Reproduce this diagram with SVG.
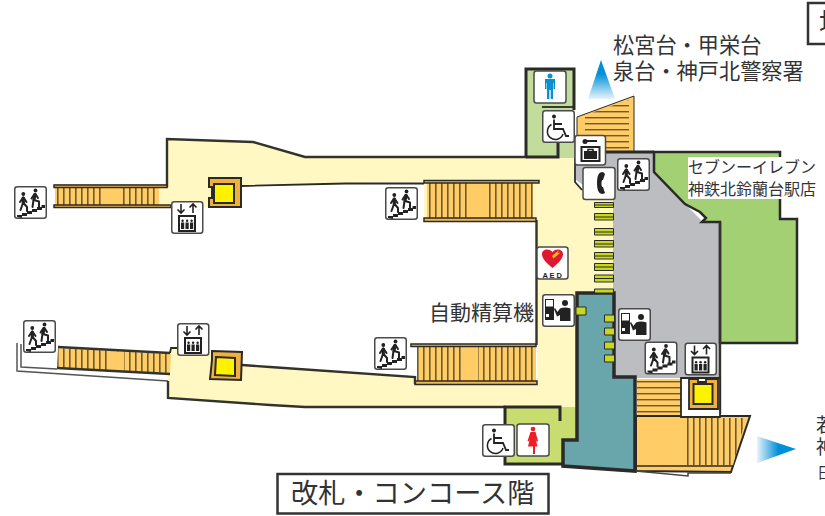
<svg xmlns="http://www.w3.org/2000/svg" xmlns:xlink="http://www.w3.org/1999/xlink" width="825" height="516" viewBox="0 0 825 516">
<style>
text{font-family:"Noto Sans CJK JP","Noto Sans",sans-serif;fill:#333;font-weight:400}
.wall{fill:none;stroke:#33332c;stroke-width:2.400;stroke-linejoin:miter}
.thick{fill:none;stroke:#2a2a28;stroke-width:3;stroke-linejoin:miter}
.thin{fill:none;stroke:#2a2a28;stroke-width:1.800}
.rail{fill:#f3b84f;stroke:#2a2a28;stroke-width:1.500}
.base{fill:#ffcc66}
.vh{fill:url(#vh)}
.hh{fill:url(#hh)}
.card{fill:#fff;stroke:#4a4a4a;stroke-width:1.500}
.gate{fill:#c8d820;stroke:#2a2a28;stroke-width:1}
.ink{fill:#222}
.line{fill:none;stroke:#222;stroke-width:1.600}
.limb{fill:none;stroke:#222;stroke-width:2;stroke-linecap:round;stroke-linejoin:round}
.body{fill:none;stroke:#222;stroke-width:3.200;stroke-linecap:round}
</style>
<defs>
<pattern id="vh" width="6" height="6" patternUnits="userSpaceOnUse"><rect width="6" height="6" fill="#ffcc66"/><rect x="3" width="1.600" height="6" fill="#6a5a30"/></pattern>
<pattern id="hh" width="6" height="6" patternUnits="userSpaceOnUse"><rect width="6" height="6" fill="#ffcc66"/><rect y="3" width="6" height="1.400" fill="#6a5a30"/></pattern>
<linearGradient id="gUp" x1="0" y1="0" x2="0" y2="1"><stop offset="0.35" stop-color="#0090d8"/><stop offset="1" stop-color="#e8f4fb"/></linearGradient>
<linearGradient id="gRight" x1="1" y1="0" x2="0" y2="0"><stop offset="0.45" stop-color="#0090d8"/><stop offset="1" stop-color="#e8f4fb"/></linearGradient>
<g id="persons">
<circle cx="9.300" cy="8" r="1.900" class="ink"/><path d="M9.300 12V17" class="body"/><path d="M9 11.500L6 16M9.500 11.500L12.500 16M9 17L6.500 24M9.500 17L13 21V25" class="limb"/>
<circle cx="21.500" cy="4.500" r="1.900" class="ink"/><path d="M21 8.500L20 13.500" class="body"/><path d="M20.500 8L17.500 12.500M21.500 8L24 12M20 14L25 15.500V20.500M19.500 14L18.500 21" class="limb"/>
</g>
<g id="stair"><rect x=".75" y=".75" width="31.500" height="31.500" rx="2.500" class="card"/><use xlink:href="#persons"/><path d="M3 31v-2h5v-2h5v-2h5v-2h5v-2h4.500v-2h3.500v3h-3v2h-5v2h-5v2h-5v2h-5v2z" class="ink"/></g>
<g id="lift"><rect x=".75" y=".75" width="31" height="31.500" rx="2.500" class="card"/><path d="M10 3v9M6.500 8.500L10 12l3.500-3.500M22 12V3M18.500 6.500L22 3l3.500 3.500" class="line"/><rect x="8" y="15" width="16" height="15" fill="none" stroke="#222" stroke-width="2"/><path d="M10 21.500h3.200V28H10zM14.500 21.500h3.200V28h-3.200zM19 21.500h3.200V28H19z" class="ink"/><circle cx="11.600" cy="19.800" r="1.200" class="ink"/><circle cx="16.100" cy="19.800" r="1.200" class="ink"/><circle cx="20.600" cy="19.800" r="1.200" class="ink"/></g>
<g id="pay"><rect x=".75" y=".75" width="31.500" height="31.500" rx="2.500" class="card"/><rect x="3" y="5" width="9" height="21" class="ink"/><rect x="4" y="6" width="7" height="6.500" fill="#fff"/><rect x="4" y="20" width="3" height="3" fill="#fff"/><circle cx="23" cy="9" r="3" class="ink"/><path d="M13 14L15.500 18L18 14.500Q23 12.500 28.500 14.500V27H18V21L15 22.500L12 15Z" class="ink"/></g>
<g id="chair"><rect x=".75" y=".75" width="31.500" height="31.500" rx="2.500" class="card"/><circle cx="12" cy="6.500" r="2" class="ink"/><path d="M12 9.500V19H21L24 26H27M12 14H20" fill="none" stroke="#222" stroke-width="1.800"/><path d="M9.500 14.500A8 8 0 1 0 21 24" fill="none" stroke="#222" stroke-width="1.500"/></g>
</defs>

<g id="plan">
<!-- concourse floor -->
<path d="M167 139L253 142L305 157L573 157L576 182L583 190L613 190V293H577V407H305L270 405L168 398V374L171 353L172 348L212 352L242 365L270 367L415 377V384H537V345H536V220H424V182L345 183L241 185V207H159V186H167Z" fill="#fff8c2"/>
<path d="M54 186H167V139L253 142L305 157H527" class="wall"/>
<path d="M241 186L345 183.500H424" class="thin"/>
<path d="M54 206H171" class="thin"/>
<path d="M424 181.500H539" class="thin"/>
<path d="M536.500 220V345" class="wall"/>
<!-- upper mid stairs -->
<rect x="427" y="183" width="106" height="35" class="vh"/><rect x="471" y="183" width="17" height="35" class="base"/>
<rect x="424" y="218" width="112" height="3.500" class="rail"/>
<rect x="424" y="180.500" width="115" height="2.500" class="rail"/>
<!-- lower mid stairs -->
<rect x="417" y="347" width="119" height="34" class="vh"/><rect x="464" y="347" width="14" height="34" class="base"/>
<rect x="411" y="344" width="125" height="2.500" class="rail"/>
<rect x="415" y="381" width="122" height="3.500" class="rail"/>
<!-- upper left stairs -->
<rect x="55" y="187" width="104" height="19" class="vh"/><rect x="105" y="187" width="17" height="19" class="base"/>
<rect x="54" y="185" width="113" height="2.500" class="rail"/>
<rect x="54" y="205" width="117" height="2.500" class="rail"/>
<!-- lower left stairs -->
<path d="M58 348L171 354L170 373L57 368Z" class="vh"/><path d="M110 351L124 352L124 371L110 370Z" class="base"/>
<path d="M58 347L170 353" class="wall"/><path d="M57 368L170 374" class="wall"/>
<path d="M17 343V371L168 381" fill="none" stroke="#555" stroke-width="1.500"/><path d="M21 344V367L57 369" fill="none" stroke="#555" stroke-width="1.500"/>
<path d="M168 381V398L270 405L305 407H505" class="wall"/>
<path d="M170 353L171 348H178" class="thin"/>
<path d="M242 365L270 367L415 377V384" class="wall"/>
<!-- north stairs -->
<path d="M577 117L634 96V157H577Z" fill="#ffcc66" stroke="#2a2a28" stroke-width="1"/>
<path d="M585 115L629 100V152H585Z" class="hh"/>
<!-- gray -->
<path d="M576 150L577 152H653V172L685 204L703 222L720 222V414H681V378H636L614 377V293H613V190L590 190L576 180Z" fill="#bcbdc0"/>
<!-- green store -->
<path d="M654 152H780V219H797V343H720V222H702L706 218L700 212L685 204L654 172Z" fill="#a4d074" stroke="#2a2a28" stroke-width="2.500"/>
<path d="M577 152H654" class="thick"/>
<path d="M575 158V182L582 190" class="thin"/>
<path d="M720 222V414" class="wall"/>
<!-- men WC -->
<rect x="526.500" y="69" width="47" height="88" fill="#c2dd9b"/><rect x="559" y="140" width="15" height="18" fill="#c2dd9b"/>
<path d="M526 157V69H574V110" class="thick"/><path d="M526 157H558V143" class="thick"/><path d="M542 107H574" class="thin"/>
<path d="M575 140V158" stroke="#888" stroke-width="2"/>
<!-- women WC -->
<path d="M505 407H560V407H577V464H505Z" fill="#c8dc70"/>
<path d="M560 421V407H505V464H565" class="thick"/>
<!-- teal -->
<path d="M577 293H614V377H635V471L563 466V440H577Z" fill="#69a6ac" stroke="#2a2a28" stroke-width="3.500"/>
<!-- right stairs -->
<rect x="637" y="379" width="44" height="37" class="hh"/>
<path d="M636 416H750L731 472L636 471Z" fill="#ffcc66" stroke="#2a2a28" stroke-width="2"/>
<path d="M686 418H746L733 465H686Z" class="vh"/>
<path d="M637 466H732" stroke="#2a2a28" stroke-width="1.500"/>
<path d="M636 471L688 476V473L731 473" fill="none" stroke="#444" stroke-width="1.500"/>
<path d="M681 378V417H720V378Z" fill="#fff" stroke="#2a2a28" stroke-width="1.800"/>
<!-- lift shafts -->
<path d="M209 178H241V207H209V198H212V187H209Z" fill="#f0b040" stroke="#2a2a28" stroke-width="2"/><rect x="214" y="184" width="20" height="19" fill="#fff200" stroke="#2a2a28" stroke-width="2"/>
<path d="M212 351L242 352L241 380L210 379L212 360Z" fill="#f0b040" stroke="#2a2a28" stroke-width="2"/><path d="M216 357L235 358L235 376L215 375Z" fill="#fff200" stroke="#2a2a28" stroke-width="2"/>
<path d="M689 379H698V382H706V379H718V409H689Z" fill="#f0b040" stroke="#2a2a28" stroke-width="1.800"/><rect x="693.500" y="384" width="19" height="20" fill="#fff200" stroke="#2a2a28" stroke-width="2"/>
<!-- gates -->
<g id="gates">
<path d="M594.500 202.500h19v5h-19zM594.500 213.500h19v6.500h-19zM594.500 228.500h19v6.500h-19zM594.500 240.500h19v6.500h-19zM594.500 252.500h19v6.500h-19zM594.500 263.500h19v7h-19zM594.500 275h19v7h-19zM594.500 289h19v4h-19z" class="gate"/>
<path d="M595 205h18M595 217h18M595 232h18M595 244h18M595 256h18M595 267h18M595 278.500h18" stroke="#2a2a28" stroke-width="1"/>
<path d="M576 307h10v8h-10zM604.500 315h10v7h-10zM604.500 328h10v7h-10zM604.500 342h10v7h-10zM604.500 355h10v7h-10z" class="gate"/>
</g>
<!-- arrows -->
<path d="M601 60L615 99H588Z" fill="url(#gUp)"/>
<path d="M796 449L757 436V463Z" fill="url(#gRight)"/>
</g>

<g id="n-stair-1"><use xlink:href="#stair" x="14" y="186"/></g>
<g id="n-lift-1"><use xlink:href="#lift" x="171" y="201"/></g>
<g id="n-stair-2"><use xlink:href="#stair" x="385" y="187"/></g>
<g id="n-aed"><rect x="537" y="247" width="31" height="32" rx="2.500" class="card"/><path d="M552.500 268C545 262 542 258 542 254c0-5 7-6 10.500-2 3-4 10.500-3 10.500 2 0 4-3 8-10.500 14Z" fill="#e0182d"/><path d="M552 256l7-6-1.500 3 3-.5-7 6z" fill="#f0c020"/><text x="553" y="277.500" text-anchor="middle" style="font-size:7.500px;font-weight:700;letter-spacing:1.800px;fill:#222;font-family:'Liberation Sans',sans-serif">AED</text></g>
<g id="n-pay-1"><use xlink:href="#pay" x="542" y="294"/></g>
<g id="n-pay-2"><use xlink:href="#pay" x="618" y="308"/></g>
<g id="n-stair-3"><use xlink:href="#stair" x="374" y="337"/></g>
<g id="n-stair-4"><use xlink:href="#stair" x="23" y="320"/></g>
<g id="n-lift-2"><use xlink:href="#lift" x="177" y="323"/></g>
<g id="n-chair-2"><use xlink:href="#chair" x="482" y="424"/></g>
<g id="n-women"><rect x="517" y="424" width="32" height="32" rx="2.500" class="card"/><circle cx="533" cy="429" r="2.300" fill="#ee1c25"/><path d="M530.500 432h5l2.500 9-1.500.5-1-3 2 8h-2.500v7.500h-2v-7.500H528l2-8-1 3-1.500-.5z" fill="#ee1c25"/></g>
<g id="n-men"><rect x="534" y="71" width="32" height="32" rx="2.500" class="card"/><circle cx="550" cy="76" r="2.500" fill="#0a8fd0"/><path d="M545 79h10v10h-1.500v-6h-.5v16h-2.300v-9h-1.400v9H547V83h-.5v6H545z" fill="#0a8fd0"/></g>
<g id="n-chair-1"><use xlink:href="#chair" x="542" y="110"/></g>
<g id="n-locker"><rect x="575" y="135.500" width="30.500" height="29.500" rx="2.500" class="card"/><path d="M584 141h13" stroke="#222" stroke-width="2"/><circle cx="585" cy="141.500" r="2.500" class="ink"/><rect x="581.500" y="147" width="18" height="14" fill="none" stroke="#222" stroke-width="2"/><rect x="584" y="151" width="13" height="8" class="ink"/><path d="M588 151v-1.500h5v1.500" class="line" stroke-width="1"/></g>
<g id="n-phone"><rect x="583" y="167.500" width="32" height="32" rx="2.500" class="card"/><path d="M603 172c-4 0-6 3-6 11s2 11 6 11l2-1-2-6c-2 1-2-8 0-7l2-6z" class="ink"/></g>
<g id="n-stair-5"><use xlink:href="#stair" x="617" y="158"/></g>
<g id="n-stair-6"><use xlink:href="#stair" x="644.500" y="341.500"/></g>
<g id="n-lift-3"><use xlink:href="#lift" x="684.500" y="342.500"/></g>

<g id="labels">
<text x="613" y="53" font-size="21.200">松宮台・甲栄台</text>
<text x="613" y="79" font-size="21.200">泉台・神戸北警察署</text>
<rect x="688" y="157" width="127" height="42" fill="#fff"/>
<text x="688" y="173" font-size="16">セブンーイレブン</text>
<text x="688" y="195" font-size="16">神鉄北鈴蘭台駅店</text>
<text x="429" y="319.500" font-size="21">自動精算機</text>
<rect x="277.500" y="474" width="271" height="39.500" fill="#fff" stroke="#333" stroke-width="2.500"/>
<text x="291" y="503" font-size="27.200">改札・コンコース階</text>
<rect x="808" y="3" width="30" height="41" fill="#fff" stroke="#333" stroke-width="2.500"/>
<text x="819" y="33" font-size="27">地</text>
<text x="816" y="432" font-size="19">若</text>
<text x="816" y="454" font-size="19">神</text>
<text x="817" y="478" font-size="15">日</text>
</g>
</svg>
